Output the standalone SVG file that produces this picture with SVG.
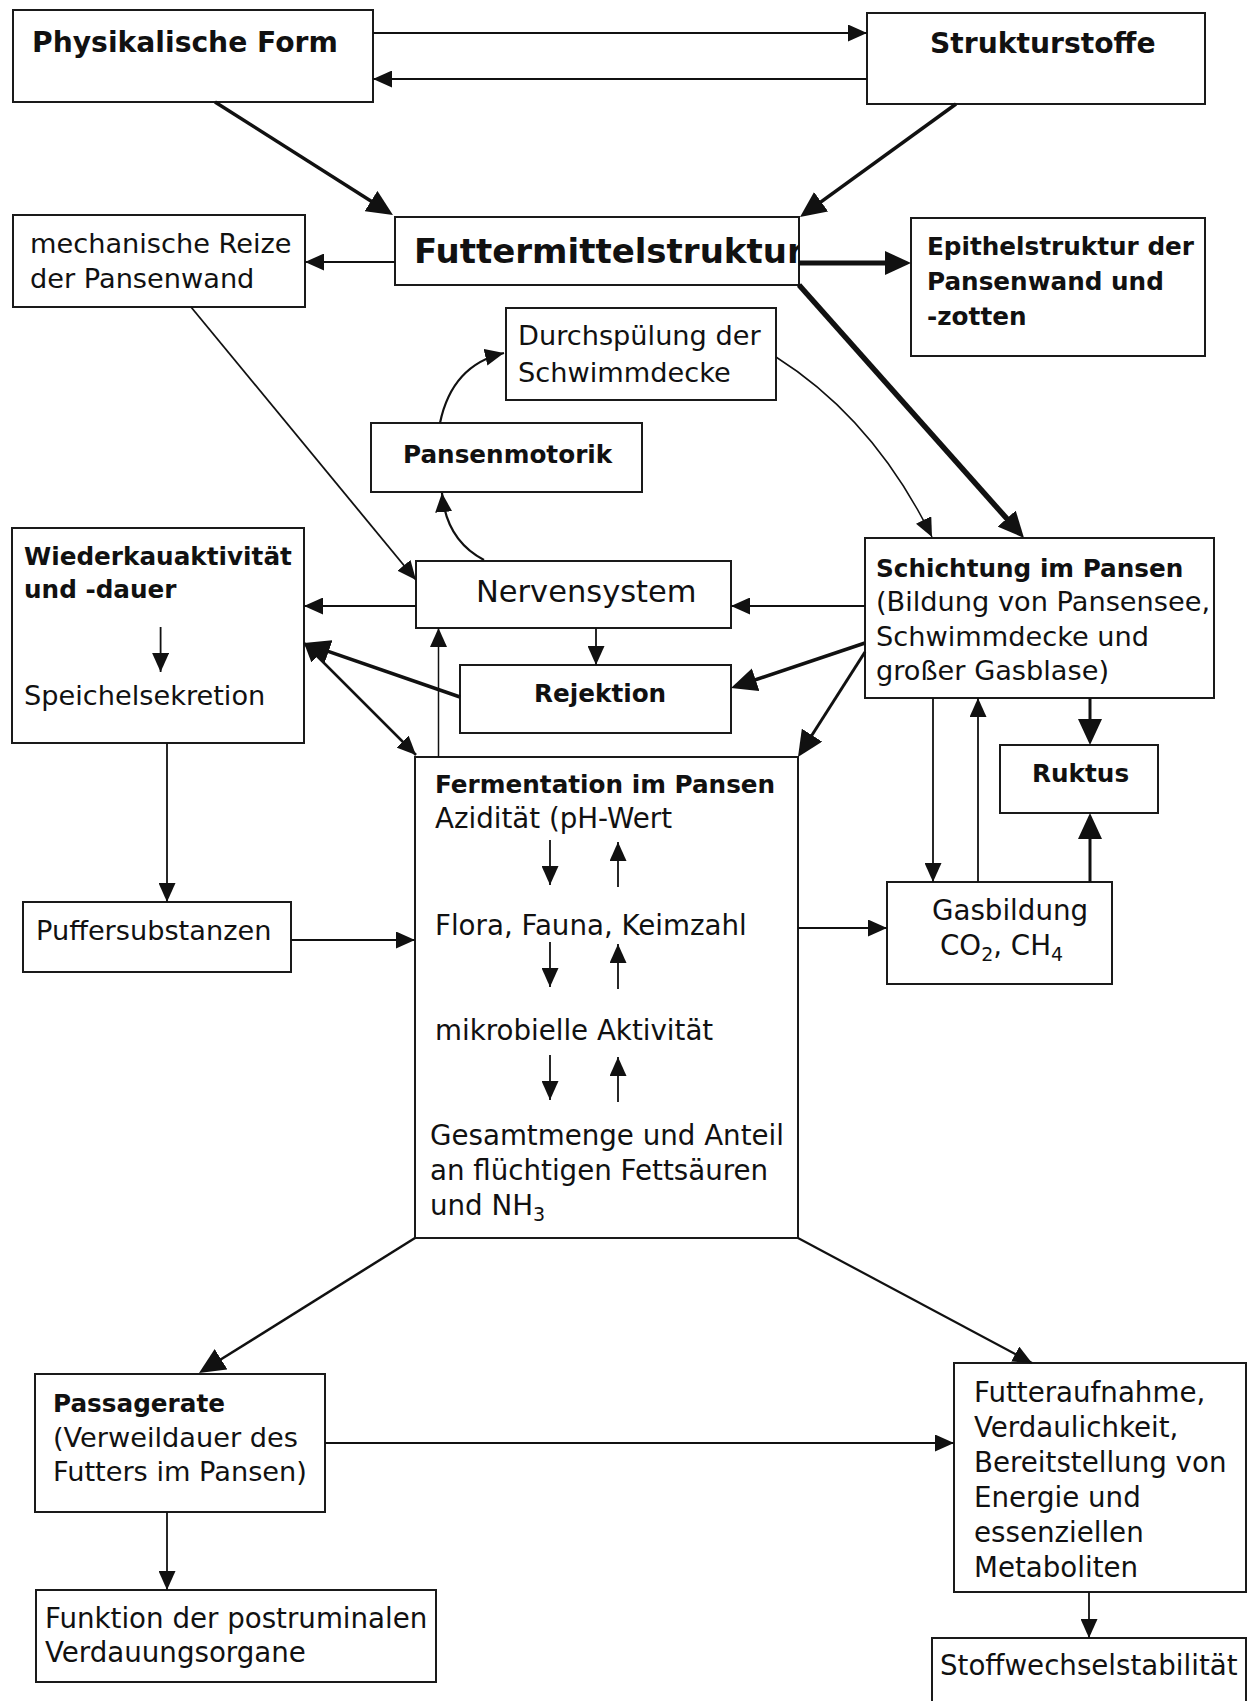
<svg xmlns="http://www.w3.org/2000/svg" width="1250" height="1701" viewBox="0 0 1250 1701">
<defs>
<style>
.box{fill:#fff;stroke:#1a1a1a;stroke-width:2}
text{font-family:"DejaVu Sans","Open Sans","Liberation Sans",sans-serif;fill:#111}
.r{font-size:27.7px}
.rs{font-size:27.2px}
.b{font-size:24.7px;font-weight:bold}
.t{font-size:28.2px;font-weight:bold}
.bw{font-weight:bold;font-size:24.7px}
.sub{font-size:19px}
.c{fill:none;stroke:#111;stroke-width:1.8}
.ta{marker-end:url(#a)}
.tb{marker-end:url(#b)}
</style>
<marker id="a" markerWidth="19" markerHeight="17" refX="19" refY="8.5" orient="auto-start-reverse" markerUnits="userSpaceOnUse"><path d="M0,0 L19,8.5 L0,17 z" fill="#111"/></marker>
<marker id="b" markerWidth="26" markerHeight="24" refX="18" refY="12" orient="auto" markerUnits="userSpaceOnUse"><path d="M0,0 L26,12 L0,24 z" fill="#111"/></marker>
<clipPath id="futclip"><rect x="395" y="217" width="404" height="68"/></clipPath>
</defs>
<rect width="1250" height="1701" fill="#fff"/>

<g id="physikalische-form"><rect class="box" x="13" y="10" width="360" height="92"/><text class="t" x="32" y="52">Physikalische Form</text></g>
<g id="strukturstoffe"><rect class="box" x="867" y="13" width="338" height="91"/><text class="t" x="930" y="53">Strukturstoffe</text></g>
<g id="mechanische-reize"><rect class="box" x="13" y="215" width="292" height="92"/><text class="rs" x="30" y="253">mechanische Reize<tspan x="30" dy="35">der Pansenwand</tspan></text></g>
<g id="futtermittelstruktur"><rect class="box" x="395" y="217" width="404" height="68"/><text clip-path="url(#futclip)" style="font-size:34px;font-weight:bold" x="414" y="263">Futtermittelstruktur</text></g>
<g id="epithelstruktur"><rect class="box" x="911" y="218" width="294" height="138"/><text class="b" x="927" y="255">Epithelstruktur der<tspan x="927" dy="35">Pansenwand und</tspan><tspan x="927" dy="35">-zotten</tspan></text></g>
<g id="durchspuelung"><rect class="box" x="506" y="308" width="270" height="92"/><text class="rs" x="518" y="345">Durchspülung der<tspan x="518" dy="37">Schwimmdecke</tspan></text></g>
<g id="pansenmotorik"><rect class="box" x="371" y="423" width="271" height="69"/><text class="b" x="403" y="463">Pansenmotorik</text></g>
<g id="wiederkauaktivitaet"><rect class="box" x="12" y="528" width="292" height="215"/><text class="rs" x="24" y="565"><tspan class="bw">Wiederkauaktivität</tspan><tspan class="bw" x="24" dy="33">und -dauer</tspan><tspan x="24" dy="107">Speichelsekretion</tspan></text></g>
<g id="nervensystem"><rect class="box" x="416" y="561" width="315" height="67"/><text style="font-size:30.5px" x="476" y="602">Nervensystem</text></g>
<g id="schichtung"><rect class="box" x="865" y="538" width="349" height="160"/><text class="rs" x="876" y="577"><tspan class="bw">Schichtung im Pansen</tspan><tspan x="876" dy="34">(Bildung von Pansensee,</tspan><tspan x="876" dy="35">Schwimmdecke und</tspan><tspan x="876" dy="34">großer Gasblase)</tspan></text></g>
<g id="rejektion"><rect class="box" x="460" y="665" width="271" height="68"/><text class="b" x="534" y="702">Rejektion</text></g>
<g id="ruktus"><rect class="box" x="1000" y="745" width="158" height="68"/><text class="b" x="1032" y="782">Ruktus</text></g>
<g id="fermentation"><rect class="box" x="415" y="757" width="383" height="481"/>
<text class="r" x="435" y="793"><tspan class="bw">Fermentation im Pansen</tspan><tspan x="435" dy="35">Azidität (pH-Wert</tspan><tspan x="435" dy="107">Flora, Fauna, Keimzahl</tspan><tspan x="435" dy="105">mikrobielle Aktivität</tspan><tspan x="430" dy="105">Gesamtmenge und Anteil</tspan><tspan x="430" dy="35">an flüchtigen Fettsäuren</tspan><tspan x="430" dy="35">und NH</tspan><tspan class="sub" dy="6">3</tspan></text>
</g>
<g id="gasbildung"><rect class="box" x="887" y="882" width="225" height="102"/><text class="r" x="932" y="920">Gasbildung<tspan x="940" dy="35">CO</tspan><tspan class="sub" dy="6">2</tspan><tspan dy="-6">, CH</tspan><tspan class="sub" dy="6">4</tspan></text></g>
<g id="puffersubstanzen"><rect class="box" x="23" y="902" width="268" height="70"/><text class="rs" x="36" y="940">Puffersubstanzen</text></g>
<g id="passagerate"><rect class="box" x="35" y="1374" width="290" height="138"/><text class="rs" x="53" y="1412"><tspan class="bw">Passagerate</tspan><tspan x="53" dy="35">(Verweildauer des</tspan><tspan x="53" dy="34">Futters im Pansen)</tspan></text></g>
<g id="funktion"><rect class="box" x="36" y="1590" width="400" height="92"/><text class="r" x="45" y="1628">Funktion der postruminalen<tspan x="45" dy="34">Verdauungsorgane</tspan></text></g>
<g id="futteraufnahme"><rect class="box" x="954" y="1363" width="292" height="229"/>
<text class="r" x="974" y="1402">Futteraufnahme,<tspan x="974" dy="35">Verdaulichkeit,</tspan><tspan x="974" dy="35">Bereitstellung von</tspan><tspan x="974" dy="35">Energie und</tspan><tspan x="974" dy="35">essenziellen</tspan><tspan x="974" dy="35">Metaboliten</tspan></text>
</g>
<g id="stoffwechselstabilitaet"><rect class="box" x="932" y="1638" width="314" height="90"/><text class="r" x="940" y="1675">Stoffwechselstabilität</text></g>

<g id="connectors">
<path class="c ta" d="M373,33 L867,33"/>
<path class="c ta" d="M867,79 L373,79"/>
<path class="c tb" style="stroke-width:3.5" d="M215,102 L386.2,210.7"/>
<path class="c tb" style="stroke-width:3.5" d="M956,104 L806.5,212.3"/>
<path class="c ta" d="M395,262 L305,262"/>
<path class="c tb" style="stroke-width:5" d="M799,263 L903,263"/>
<path class="c tb" style="stroke-width:5.5" d="M799,285 L1018.7,532"/>
<path class="c ta" d="M191,307 L416,580"/>
<path class="c ta" style="stroke-width:1.5" d="M776,357 Q874,419 932,537"/>
<path class="c ta" style="stroke-width:2.2" d="M440,423 Q452,365 504,353"/>
<path class="c ta" style="stroke-width:2.2" d="M484,560 Q446,540 442,493"/>
<path class="c ta" d="M416,606 L304,606"/>
<path class="c tb" style="stroke-width:3.5" d="M460,697 L311.6,645.6"/>
<path class="c ta" style="stroke-width:2.5;marker-start:url(#a)" d="M416,755 L304,643"/>
<path class="c ta" style="stroke-width:1.5" d="M438.5,757 L438.5,628"/>
<path class="c ta" d="M596,628 L596,665"/>
<path class="c ta" d="M865,606 L731,606"/>
<path class="c tb" style="stroke-width:3.5" d="M865,643 L738.6,685.5"/>
<path class="c tb" style="stroke-width:3" d="M865,652 L802.3,750.3"/>
<path class="c ta" d="M933,698 L933,882"/>
<path class="c ta" d="M978,882 L978,698"/>
<path class="c tb" style="stroke-width:3" d="M1090,698 L1090,737"/>
<path class="c tb" style="stroke-width:3" d="M1090,882 L1090,821"/>
<path class="c ta" d="M798,928 L887,928"/>
<path class="c ta" d="M167,743 L167,902"/>
<path class="c ta" d="M291,940 L415,940"/>
<path class="c ta" d="M160.6,627 L160.6,672"/>
<path class="c ta" d="M550,840 L550,885"/>
<path class="c ta" d="M618,887 L618,842"/>
<path class="c ta" d="M550,942 L550,987"/>
<path class="c ta" d="M618,989 L618,944"/>
<path class="c ta" d="M550,1055 L550,1100"/>
<path class="c ta" d="M618,1102 L618,1057"/>
<path class="c tb" style="stroke-width:2.5" d="M415,1238 L205.8,1368.8"/>
<path class="c ta" style="stroke-width:2.2" d="M798,1238 L1032,1363"/>
<path class="c ta" d="M325,1443 L954,1443"/>
<path class="c ta" d="M167,1512 L167,1590"/>
<path class="c ta" d="M1089,1592 L1089,1638"/>
</g>
</svg>
